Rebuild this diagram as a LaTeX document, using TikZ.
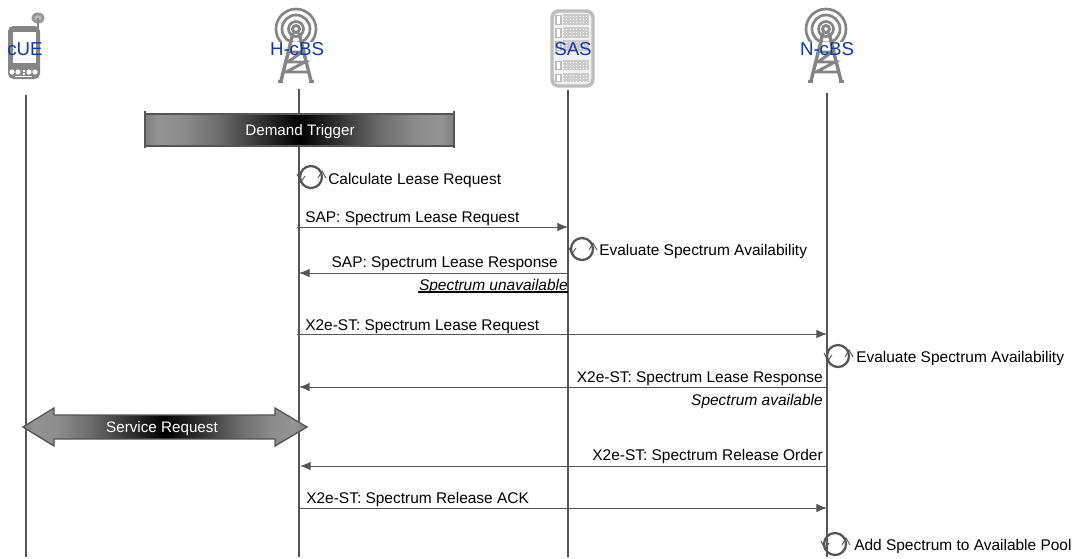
\documentclass[tikz,border=0pt]{standalone}
\usepackage{fontspec}
\setmainfont{Liberation Sans}
\usetikzlibrary{arrows.meta,calc}
\definecolor{lineg}{HTML}{555555}
\definecolor{icong}{HTML}{858585}
\definecolor{srvg}{HTML}{BDBDBD}
\definecolor{lblblue}{HTML}{0B3AA5}
\pgfdeclarehorizontalshading{barshade}{100bp}{color(0bp)=(black!50);color(25bp)=(black!50);color(27bp)=(black!42);color(31bp)=(black!45);color(37bp)=(black!58);color(43bp)=(black!78);color(50bp)=(black);color(57bp)=(black!78);color(63bp)=(black!58);color(69bp)=(black!45);color(73bp)=(black!42);color(75bp)=(black!50);color(100bp)=(black!50)}
\tikzset{
  x=0.75pt,y=-0.75pt,
  lifeline/.style={draw=lineg,line width=0.8pt},
  msg/.style={draw=lineg,line width=0.75pt,-{Latex[length=8pt,width=6.5pt]}},
  lbl/.style={font=\fontsize{11.6}{14}\selectfont,text=black,inner sep=0pt},
  actor/.style={font=\fontsize{14}{16}\selectfont,text=lblblue,inner sep=0pt},
  towerline/.style={draw=icong,line width=2.2pt},
  loopc/.style={draw=lineg,line width=1.7pt},
  tick/.style={draw=lineg,line width=0.7pt},
  barlabel/.style={font=\fontsize{11.4}{14}\selectfont,text=white,inner sep=0pt},
  sbar/.style={shading=barshade,draw=lineg,line width=1pt},
  tower/.pic={
    \foreach \r in {7.5,14,20}{\draw[towerline,line width=2pt] (0,0) circle[radius=\r];}
    \fill[white] (-22,13) -- (22,13) -- (22,24) -- (-22,24) -- cycle;
    \draw[towerline,fill=white] (0,0) circle[radius=3.5];
    \draw[towerline,line width=2.6pt] (-3,4) -- (-15,52) (3,4) -- (15,52);
    \draw[towerline,line width=2pt] (-18,52.5) -- (-13,52.5) (13,52.5) -- (18,52.5);
    \draw[towerline,line width=2.2pt] (-6,23) -- (6,23) -- (-8,33) -- (9,33) -- (-10,43) -- (11,43);
  },
  selfloop/.pic={
    \draw[loopc] (0,0) circle[radius=11];
    \draw[tick] (-14,-3) -- (-10,5) -- (-6,-1);
    \draw[tick] (7,1) -- (11,-6) -- (15,1);
  }
}
\begin{document}
\begin{tikzpicture}
\useasboundingbox (0,0) rectangle (1080,558);
% coordinates of lifelines
\coordinate (ueT) at (26,95);   \coordinate (ueB) at (26,557);
\coordinate (hT) at (299,89);   \coordinate (hB) at (299,557);
\coordinate (sT) at (568,90);   \coordinate (sB) at (568,557);
\coordinate (nT) at (827,93);   \coordinate (nB) at (827,557);
\draw[lifeline] (ueT) -- (ueB);
\draw[lifeline] (hT) -- (hB);
\draw[lifeline,line width=1.3pt] (sT) -- (sB);
\draw[lifeline,line width=1.3pt] (nT) -- (nB);
% phone
\fill[icong!85] (38,18) ellipse[x radius=6.5,y radius=5.5];
\fill[srvg] (38,18) ellipse[x radius=3.5,y radius=2.5];
\draw[icong,line width=1.5pt] (38,18) -- (38,28);
\fill[icong,rounded corners=4pt] (8,26) rectangle (40,79);
\fill[white] (13,32) rectangle (36,63);
\foreach \x in {12,18,29,35}{\fill[white] (\x,72) circle[radius=2.6];}
\fill[white] (23,69.5) rectangle (24.5,71.5);
\fill[white] (23,73) rectangle (24.5,75);
\draw[white,line width=0.5pt] (15,76.5) -- (32,76.5);
% towers
\pic at (296,29) {tower};
\pic at (826,29) {tower};
% server
\draw[srvg,line width=2.6pt,rounded corners=5pt,fill=black!6] (552,11) rectangle (593,86);
\foreach \y/\h in {14/12,27/12,40/12,60/11,73/10}{
  \draw[srvg,line width=0.9pt,fill=white] (556,\y+1.5) rectangle (561,\y+\h-1.5);
  \fill[black!20] (563,\y) rectangle (589,\y+\h-1);
  \draw[white,line width=0.5pt,dotted] (563,\y+2) -- (589,\y+2) (563,\y+5) -- (589,\y+5) (563,\y+8) -- (589,\y+8);
}
% actor labels
\node[actor] (ue) at (25,49) {cUE};
\node[actor] (hcbs) at (297,49) {H-cBS};
\node[actor] (sas) at (573,49) {SAS};
\node[actor] (ncbs) at (827,49) {N-cBS};
% Demand trigger bar
\path[sbar] (145,114) rectangle (454,146);
\draw[lineg,line width=1.3pt] (145,111) -- (145,148) (454,111) -- (454,148);
\node[barlabel] (dt) at (300,131.5) {Demand Trigger};
% self loops
\pic at (311,177) {selfloop};
\pic at (582,249) {selfloop};
\pic at (838,356) {selfloop};
\pic at (835,544) {selfloop};
\node[lbl,anchor=base west] (l1) at (328,184) {Calculate Lease Request};
\node[lbl,anchor=base west] (l2) at (599,255) {Evaluate Spectrum Availability};
\node[lbl,anchor=base west] (l3) at (856,362) {Evaluate Spectrum Availability};
\node[lbl,anchor=base west] (l4) at (854,550) {Add Spectrum to Available Pool};
% messages
\coordinate (a1) at (297,227);\coordinate (b1) at (568,227);
\coordinate (a2) at (568,273);\coordinate (b2) at (299,273);
\coordinate (a3) at (297,334);\coordinate (b3) at (827,334);
\coordinate (a4) at (827,387);\coordinate (b4) at (299,387);
\coordinate (a5) at (827,466);\coordinate (b5) at (300,466);
\coordinate (a6) at (299,508);\coordinate (b6) at (827,508);
\draw[msg] (a1) -- (b1);
\draw[msg] (a2) -- (b2);
\draw[msg] (a3) -- (b3);
\draw[msg] (a4) -- (b4);
\draw[msg] (a5) -- (b5);
\draw[msg] (a6) -- (b6);
\node[lbl,anchor=base west] (m1) at (305,222) {SAP: Spectrum Lease Request};
\node[lbl,anchor=base east] (m2) at (558,267) {SAP: Spectrum Lease Response};
\node[lbl,anchor=base west] (m3) at (305,330) {X2e-ST: Spectrum Lease Request};
\node[lbl,anchor=base east] (m4) at (823,382) {X2e-ST: Spectrum Lease Response};
\node[lbl,anchor=base east] (m5) at (823,460) {X2e-ST: Spectrum Release Order};
\node[lbl,anchor=base west] (m6) at (306,503) {X2e-ST: Spectrum Release ACK};
\node[lbl,anchor=base east] (n1) at (568,290) {\itshape Spectrum unavailable};
\draw[black,line width=1pt] (418,292) -- (568,292);
\node[lbl,anchor=base east] (n2) at (823,405) {\itshape Spectrum available};
% Service Request double arrow
\path[sbar] (23,427) -- (54,408) -- (54,415) -- (275,415) -- (275,408) -- (307,427) -- (275,446) -- (275,439) -- (54,439) -- (54,446) -- cycle;
\node[barlabel] (sr) at (162,428.5) {Service Request};
\end{tikzpicture}
\end{document}
